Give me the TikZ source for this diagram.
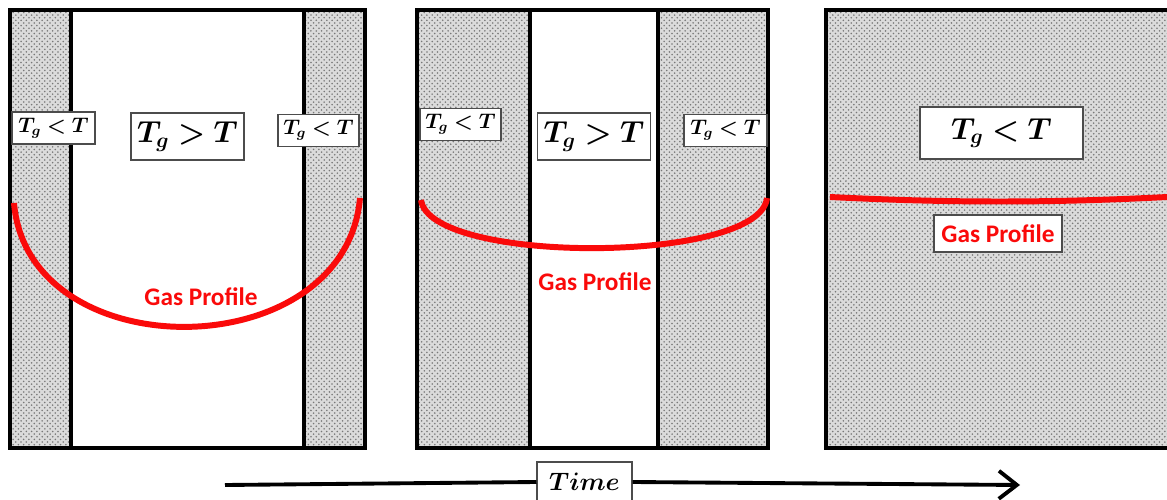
\documentclass[tikz,border=0pt]{standalone}
\usepackage{fontspec}
\setsansfont{Carlito}
\usepackage{bm}
\usepackage{xcolor}
\usepackage{tikz}
\usetikzlibrary{arrows.meta,patterns}
\definecolor{gasred}{RGB}{250,10,10}
\definecolor{stipple}{RGB}{120,120,120}
\tikzset{
  panel/.style={
    draw=black,
    line width=2.8pt
  },
  divider/.style={
    draw=black,
    line width=2.2pt
  },
  solid/.style={
    preaction={fill=gray!28},
    pattern=crosshatch dots,
    pattern color=stipple
  },
  smalllbl/.style={
    rectangle,
    draw=black!70,
    fill=white,
    line width=0.6pt,
    minimum width=1.62cm,
    minimum height=0.64cm,
    inner sep=2pt,
    font=\large
  },
  biglbl/.style={
    rectangle,
    draw=black!70,
    fill=white,
    line width=0.6pt,
    minimum width=2.26cm,
    minimum height=0.94cm,
    inner sep=2pt,
    font=\LARGE
  },
  gaslbl/.style={
    text=gasred,
    font=\sffamily\bfseries\Large,
    inner sep=4pt
  },
  gasline/.style={
    draw=gasred,
    line width=3.4pt
  },
  timearrow/.style={
    draw=black,
    line width=2.2pt
  }
}

\begin{document}
\begin{tikzpicture}[x=0.02cm,y=-0.02cm]
\useasboundingbox (0,0) rectangle (1167,500);

% first stage
\fill[white] (10,10) rectangle (365,448);
\path[solid] (10,10) rectangle (71,448);
\path[solid] (304,10) rectangle (365,448);
\draw[divider] (71,10) -- (71,448);
\draw[divider] (304,10) -- (304,448);
\draw[panel] (10,10) rectangle (365,448);
\node[smalllbl, minimum width=1.66cm] (solidA1) at (53.5,128) {$\bm{T_g < T}$};
\node[biglbl] (gasA) at (187.5,136.5) {$\bm{T_g > T}$};
\node[smalllbl] (solidA2) at (318.5,130.5) {$\bm{T_g < T}$};
\draw[gasline] (14,203) .. controls (28,370) and (345,368) .. (360,198);
\node[gaslbl] (profA) at (201,297) {Gas Profile};

% second stage
\fill[white] (417,10) rectangle (768,448);
\path[solid] (417,10) rectangle (530,448);
\path[solid] (658,10) rectangle (768,448);
\draw[divider] (530,10) -- (530,448);
\draw[divider] (658,10) -- (658,448);
\draw[panel] (417,10) rectangle (768,448);
\node[smalllbl] (solidB1) at (460.5,124.5) {$\bm{T_g < T}$};
\node[biglbl] (gasB) at (594,136.5) {$\bm{T_g > T}$};
\node[smalllbl, minimum width=1.66cm] (solidB2) at (725.5,130.5) {$\bm{T_g < T}$};
\draw[gasline] (421,200) .. controls (430,265) and (760,264) .. (767,198);
\node[gaslbl] (profB) at (595,282) {Gas Profile};

% third stage
\path[solid] (826,10) rectangle (1167,448);
\draw[panel] (1180,10) -- (826,10) -- (826,448) -- (1180,448);
\node[biglbl, minimum width=3.26cm, minimum height=1.04cm] (solidC) at (1001.5,133) {$\bm{T_g < T}$};
\draw[gasline] (830,197) .. controls (950,203) and (1050,203) .. (1167,197);
\node[gaslbl, draw=black!70, fill=white, line width=0.6pt, minimum width=2.56cm, minimum height=0.74cm] (profC) at (998,233.5) {Gas Profile};

% time axis
\coordinate (tstart) at (225,485);
\coordinate (tend) at (1020,485);
\node[smalllbl, minimum width=1.9cm, minimum height=0.8cm, font=\Large] (timelbl) at (584.5,482) {$\bm{Time}$};
\draw[timearrow] (tstart) -- (timelbl.west);
\draw[timearrow, -{Straight Barb[length=3.6mm, width=5.6mm]}] (timelbl.east) -- (tend);
\end{tikzpicture}
\end{document}
